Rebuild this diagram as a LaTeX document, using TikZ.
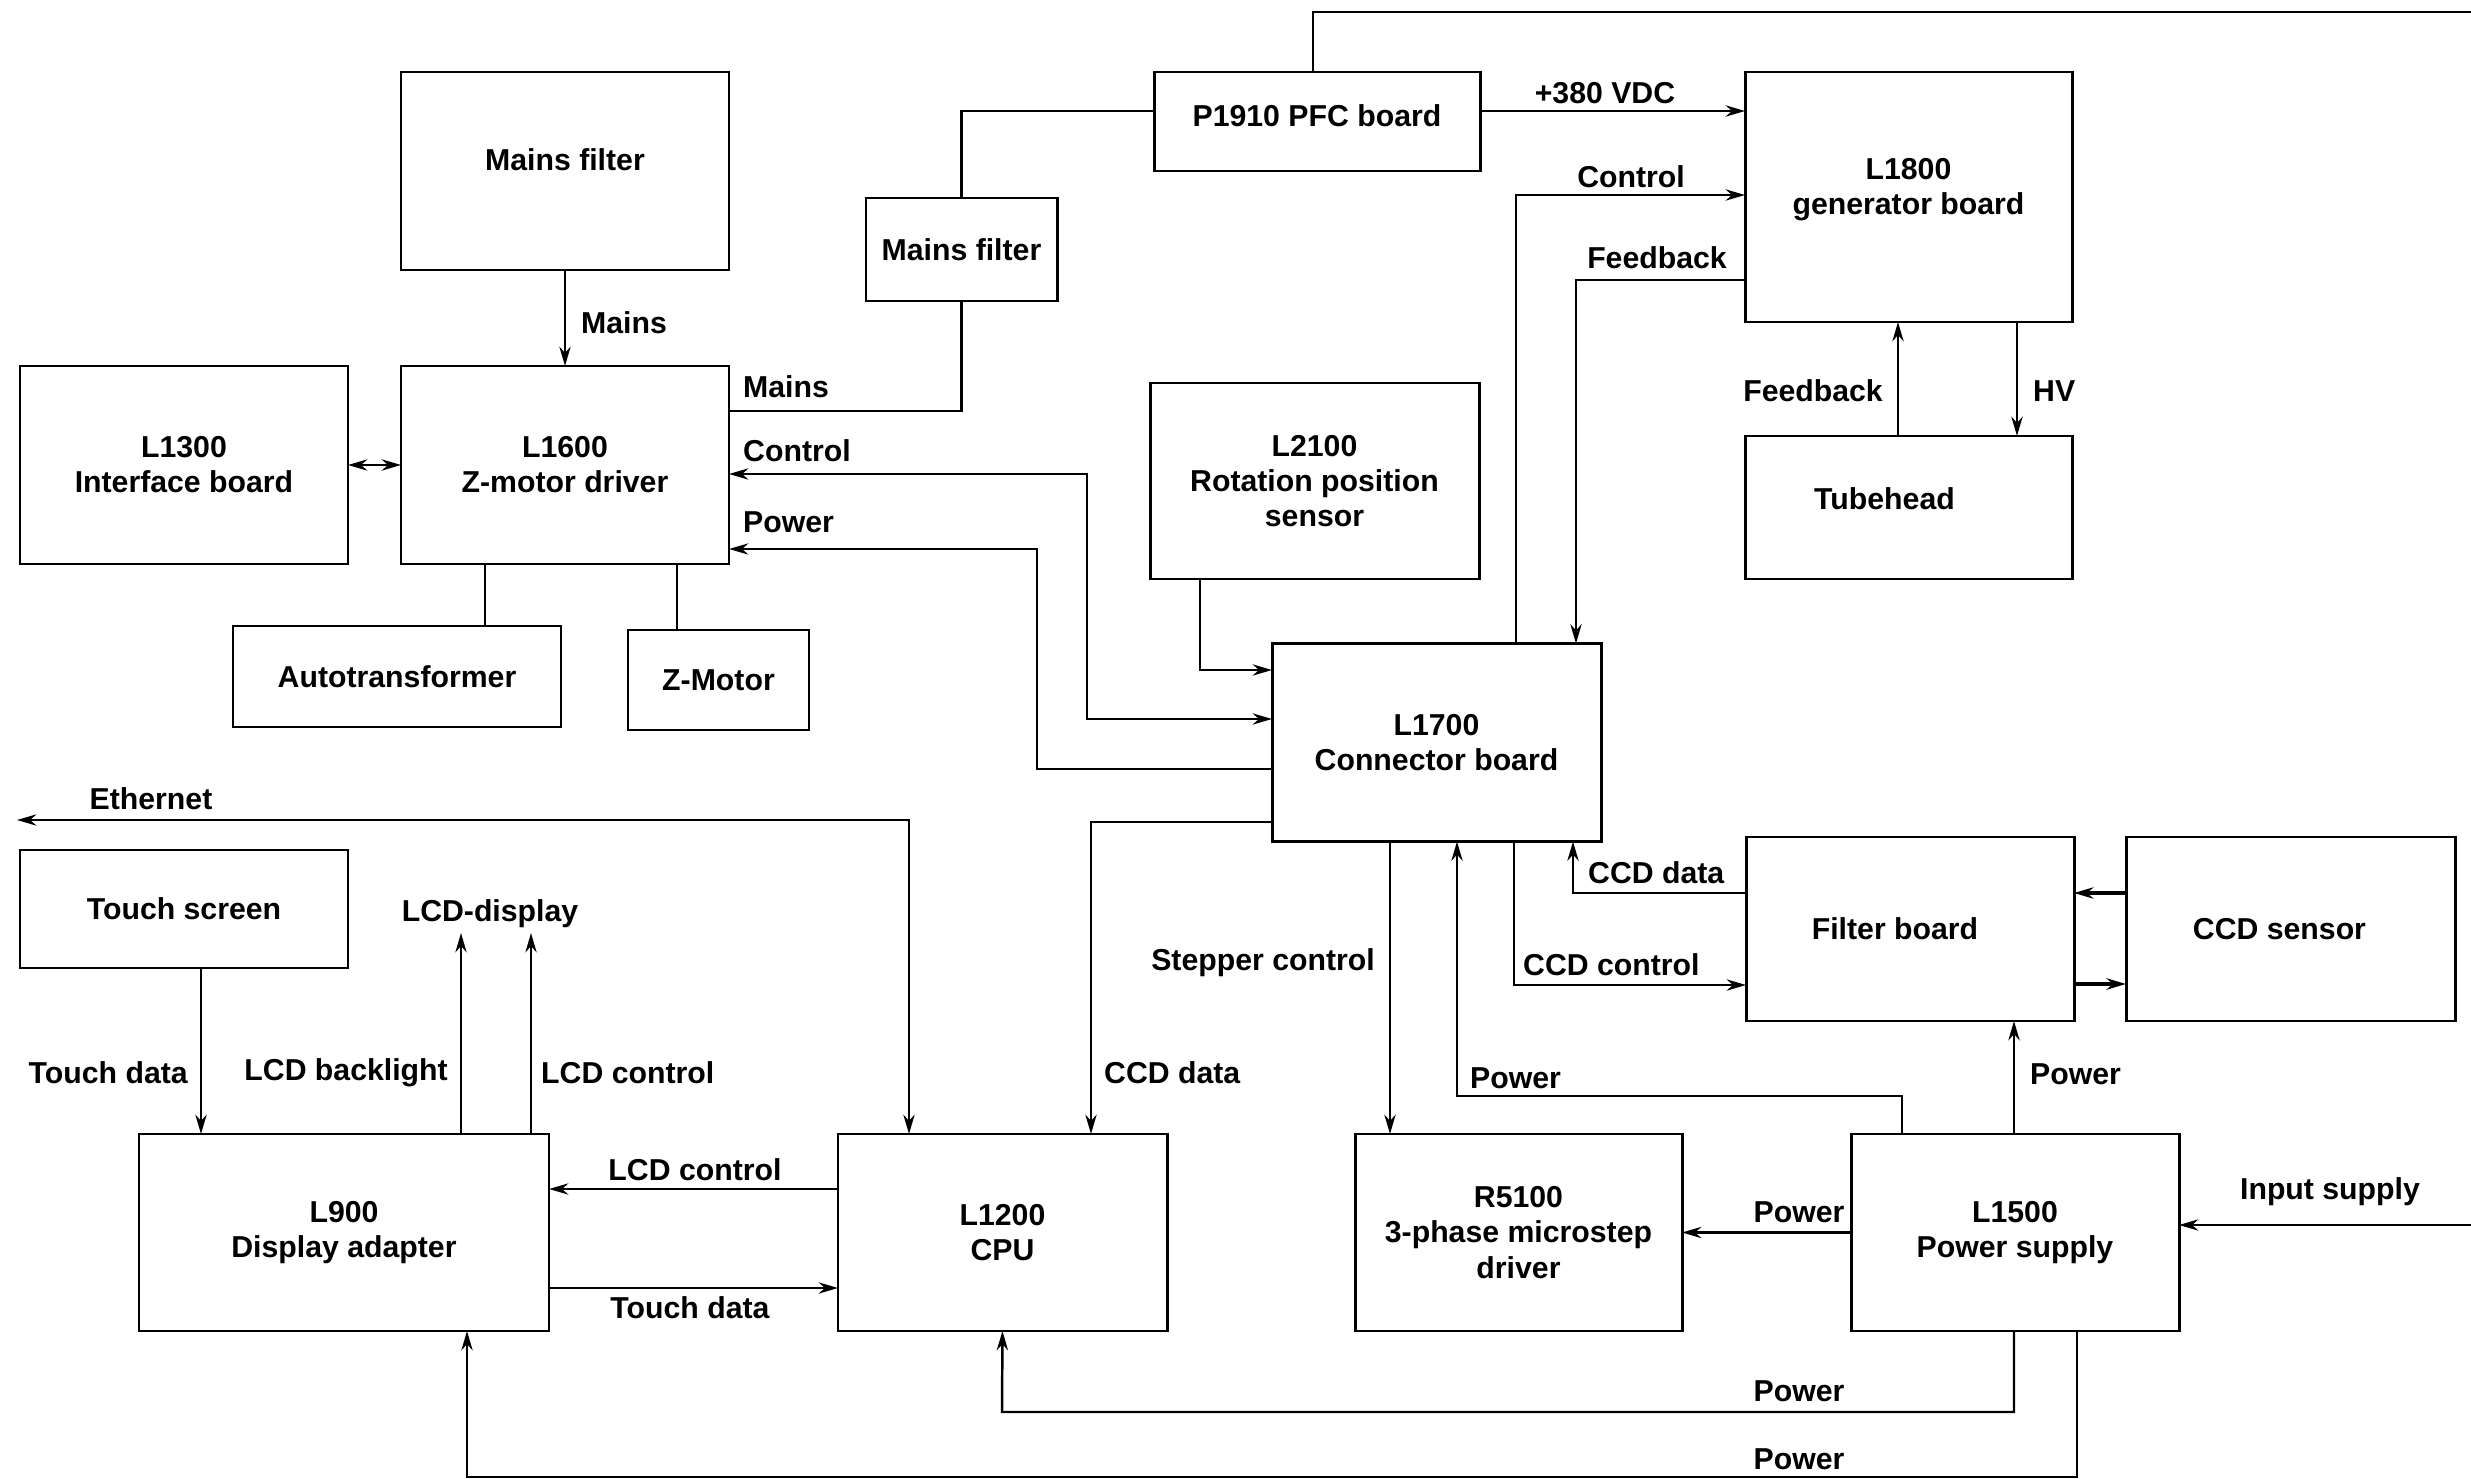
\documentclass[tikz,border=0pt]{standalone}
\usepackage{fontspec}
\setmainfont{Liberation Sans}
\usetikzlibrary{arrows.meta, positioning}

\begin{document}
\begin{tikzpicture}[
      x=0.01cm, y=-0.01cm,
      >={Stealth[length=5.5pt,width=3.2pt]},
      font=\fontsize{8.6}{10}\selectfont\bfseries,
      board node/.style={draw, line width=0.85pt, inner sep=0pt, outer sep=0pt, align=center},
      box wh/.style 2 args={minimum width=#1*0.01cm, minimum height=#2*0.01cm},
      wire/.style={line width=0.7pt},
      thick wire/.style={line width=1.3pt},
      sig/.style={inner sep=1pt}
    ]
    \useasboundingbox (0,0) rectangle (2471,1479);

    % boards
    \node[board node, box wh={328}{198}, label={[yshift=1.1mm]center:Mains filter}] (mainsA) at (565,171) {};
    \node[board node, box wh={326}{99}, label={[yshift=0.6mm]center:P1910 PFC board}] (pfc) at (1317,121.5) {};
    \node[board node, box wh={327}{250}, label={[yshift=0.7mm,align=center]center:L1800\\generator board}] (gen) at (1908.5,197) {};
    \node[board node, box wh={191}{103}] (mainsB) at (961.5,249.5) {Mains filter};
    \node[board node, box wh={328}{198}] (iface) at (184,465) {L1300\\Interface board};
    \node[board node, box wh={328}{198}] (zdrv) at (565,465) {L1600\\Z-motor driver};
    \node[board node, box wh={329}{196}] (rot) at (1314.5,481) {L2100\\Rotation position\\sensor};
    \node[board node, box wh={327}{143}, label={[xshift=-2.4mm,yshift=0.9mm]center:Tubehead}] (tube) at (1908.5,507.5) {};
    \node[board node, box wh={328}{101}] (auto) at (397,676.5) {Autotransformer};
    \node[board node, box wh={181}{100}] (zmot) at (718.5,680) {Z-Motor};
    \node[board node, box wh={329}{198}] (conn) at (1436.5,742.5) {L1700\\Connector board};
    \node[board node, box wh={328}{118}] (touch) at (184,909) {Touch screen};
    \node[board node, box wh={328}{184}, label={[xshift=-1.5mm]center:Filter board}] (filt) at (1910,929) {};
    \node[board node, box wh={329}{184}, label={[xshift=-1.1mm]center:CCD sensor}] (ccd) at (2290.5,929) {};
    \node[board node, box wh={410}{197}] (disp) at (344,1232.5) {L900\\Display adapter};
    \node[board node, box wh={329}{197}] (cpu) at (1002.5,1232.5) {L1200\\CPU};
    \node[board node, box wh={327}{197}] (step) at (1518.5,1232.5) {R5100\\3-phase microstep\\driver};
    \node[board node, box wh={328}{197}] (psu) at (2015,1232.5) {L1500\\Power supply};

    % free ends
    \coordinate (topend) at (2471,12);
    \coordinate (ethend) at (17,820);
    \coordinate (lcdA) at (461,933);
    \coordinate (lcdB) at (531,933);
    \coordinate (inp) at (2471,1225);

    % connections
    \draw[wire,->] (mainsA) -- (zdrv);
    \draw[wire,<->] (iface) -- (zdrv);
    \draw[wire] (zdrv.east |- 0,411) -| (mainsB.south);
    \draw[wire] (mainsB.north) |- (pfc.west |- 0,111);
    \draw[wire] (pfc.north -| 1313,0) |- (topend);
    \draw[wire,->] (pfc.east |- 0,111) -- (gen.west |- 0,111);
    \draw[wire,->] (conn.north -| 1516,0) |- (gen.west |- 0,195);
    \draw[wire,->] (gen.west |- 0,280) -| (conn.north -| 1576,0);
    \draw[wire,->] (tube.north -| 1898,0) -- (gen.south -| 1898,0);
    \draw[wire,->] (gen.south -| 2017,0) -- (tube.north -| 2017,0);
    \draw[wire,->] (rot.south -| 1200,0) |- (conn.west |- 0,670);
    \draw[wire,<->] (zdrv.east |- 0,474) -| (1087,719) -- (conn.west |- 0,719);
    \draw[wire,->] (conn.west |- 0,769) -| (1037,549) -- (zdrv.east |- 0,549);
    \draw[wire] (zdrv.south -| 485,0) -- (auto.north -| 485,0);
    \draw[wire] (zdrv.south -| 677,0) -- (zmot.north -| 677,0);
    \draw[wire,->] (conn.west |- 0,822) -| (cpu.north -| 1091,0);
    \draw[wire,<->] (ethend) -| (cpu.north -| 909,0);
    \draw[wire,->] (touch.south -| 201,0) -- (disp.north -| 201,0);
    \draw[wire,->] (disp.north -| lcdA) -- (lcdA);
    \draw[wire,->] (disp.north -| lcdB) -- (lcdB);
    \draw[wire,->] (cpu.west |- 0,1189) -- (disp.east |- 0,1189);
    \draw[wire,->] (disp.east |- 0,1288) -- (cpu.west |- 0,1288);
    \draw[wire,->] (conn.south -| 1390,0) -- (step.north -| 1390,0);
    \draw[wire,->] (psu.north -| 1902,0) |- (1457,1096) -- (conn.south -| 1457,0);
    \draw[wire,->] (filt.west |- 0,893) -| (conn.south -| 1573,0);
    \draw[wire,->] (conn.south -| 1514,0) |- (filt.west |- 0,985);
    \draw[thick wire,->] (ccd.west |- 0,893) -- (filt.east |- 0,893);
    \draw[thick wire,->] (filt.east |- 0,984) -- (ccd.west |- 0,984);
    \draw[wire,->] (psu.north -| 2014,0) -- (filt.south -| 2014,0);
    \draw[wire,->] (psu) -- (step);
    \draw[wire,->] (inp) -- (psu.east |- inp);
    \draw[wire,->] (psu.south -| 2014,0) |- (1002,1412) -- (cpu.south);
    \draw[wire,->] (psu.south -| 2077,0) |- (467,1477) -- (disp.south -| 467,0);

    % signal names
    \node[sig, anchor=west] (lMainsA) at (577,323) {Mains};
    \node[sig, anchor=west] (lMainsB) at (739,387) {Mains};
    \node[sig, anchor=west] (lCtrlZ) at (739,451) {Control};
    \node[sig, anchor=west] (lPowZ) at (739,522) {Power};
    \node[sig] (lVdc) at (1605,93) {+380 VDC};
    \node[sig] (lCtrlGen) at (1631,177) {Control};
    \node[sig] (lFbGen) at (1657,258) {Feedback};
    \node[sig, anchor=east] (lFbTube) at (1887,391) {Feedback};
    \node[sig, anchor=west] (lHV) at (2029,391) {HV};
    \node[sig] (lEth) at (151,799) {Ethernet};
    \node[sig] (lLcdDisp) at (490,914) {LCD-display};
    \node[sig, anchor=east] (lTouchA) at (192,1073) {Touch data};
    \node[sig, anchor=east] (lBacklight) at (452,1073) {LCD backlight};
    \node[sig, anchor=west] (lLcdA) at (537,1073) {LCD control};
    \node[sig] (lLcdB) at (695,1170) {LCD control};
    \node[sig] (lTouchB) at (690,1308) {Touch data};
    \node[sig, anchor=west] (lCcdCpu) at (1100,1073) {CCD data};
    \node[sig, anchor=east] (lStep) at (1379,963) {Stepper control};
    \node[sig, anchor=west] (lPowConn) at (1466,1078) {Power};
    \node[sig, anchor=west] (lCcdFilt) at (1584,873) {CCD data};
    \node[sig, anchor=west] (lCcdCtrl) at (1519,965) {CCD control};
    \node[sig] (lPowStep) at (1799,1212) {Power};
    \node[sig, anchor=west] (lPowFilt) at (2026,1074) {Power};
    \node[sig] (lInput) at (2330,1192) {Input supply};
    \node[sig] (lPowCpu) at (1799,1391) {Power};
    \node[sig] (lPowDisp) at (1799,1459) {Power};
  \end{tikzpicture}
\end{document}
